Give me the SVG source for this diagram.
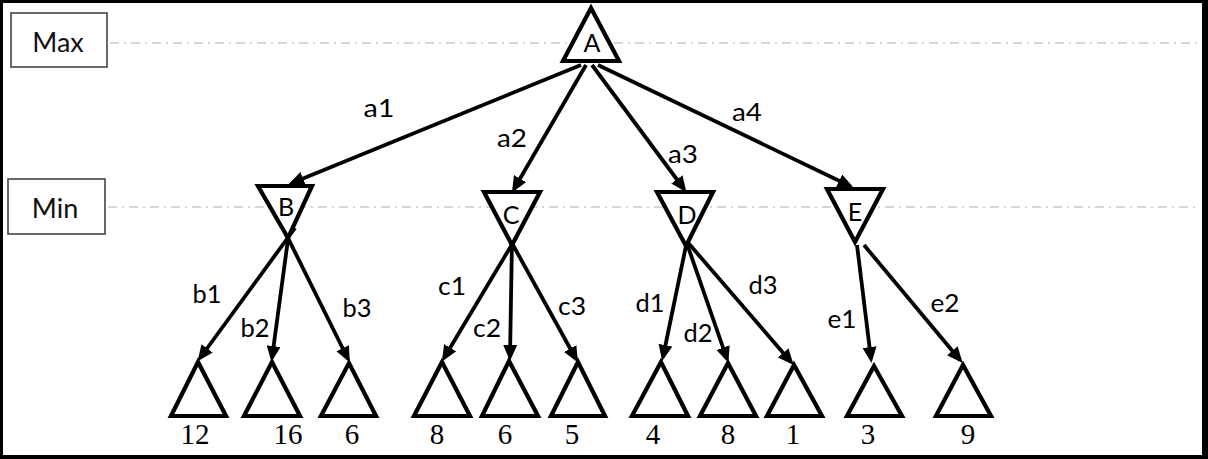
<svg xmlns="http://www.w3.org/2000/svg" width="1208" height="459" viewBox="0 0 1208 459">
<defs>
<marker id="arr" markerUnits="userSpaceOnUse" markerWidth="16" markerHeight="14" refX="12" refY="7" orient="auto">
<path d="M0,0 L16,7 L0,14 z" fill="#000"/>
</marker>
</defs>
<style>
.lvl{fill:#fff;stroke:#444;stroke-width:1.6}
.lvltxt{font-family:Lato,"Open Sans",sans-serif;font-size:27px;fill:#111;text-anchor:middle}
.guide{stroke:#c9c9c9;stroke-width:1.6;stroke-dasharray:9 5 2 5;fill:none}
.node{fill:#fff;stroke:#000;stroke-width:4.2;stroke-linejoin:miter}
.ntxt{font-family:Lato,"Open Sans",sans-serif;font-size:25px;fill:#000;text-anchor:middle}
.edge{stroke:#000;stroke-width:3.8;fill:none;marker-end:url(#arr)}
.elbl{font-family:Lato,"Open Sans",sans-serif;font-size:25px;fill:#000;text-anchor:middle}
.val{font-family:"Liberation Serif","Times New Roman",serif;font-size:29px;fill:#000;text-anchor:middle}
</style>
<rect x="0" y="0" width="1208" height="459" fill="#000"/>
<rect x="3" y="3" width="1199" height="452" fill="#fff"/>

<g id="levels">
<line class="guide" x1="110" y1="43" x2="1198" y2="43"/>
<line class="guide" x1="108" y1="207" x2="1198" y2="207"/>
<g id="level-max"><rect class="lvl" x="11" y="13" width="96" height="54"/><text class="lvltxt" x="58" y="52">Max</text></g>
<g id="level-min"><rect class="lvl" x="8" y="179" width="97" height="55"/><text class="lvltxt" x="55" y="218">Min</text></g>
</g>

<g id="connectors">
<line class="edge" x1="581" y1="65" x2="292" y2="183"/>
<line class="edge" x1="586" y1="65" x2="514" y2="189"/>
<line class="edge" x1="592" y1="65" x2="684" y2="189"/>
<line class="edge" x1="598" y1="65" x2="850" y2="186"/>
<line class="edge" x1="295" y1="228" x2="200" y2="358"/>
<line class="edge" x1="289" y1="232" x2="272" y2="358"/>
<line class="edge" x1="283" y1="228" x2="348" y2="359"/>
<line class="edge" x1="517" y1="236" x2="444" y2="358"/>
<line class="edge" x1="512" y1="240" x2="510" y2="357"/>
<line class="edge" x1="508" y1="236" x2="576" y2="359"/>
<line class="edge" x1="688" y1="236" x2="663" y2="357"/>
<line class="edge" x1="685" y1="238" x2="727" y2="359"/>
<line class="edge" x1="684" y1="238" x2="791" y2="362"/>
<line class="edge" x1="857" y1="245" x2="871" y2="359"/>
<line class="edge" x1="864" y1="245" x2="960" y2="360"/>
</g>

<g id="edge-labels">
<text class="elbl" x="379" y="117" textLength="31" lengthAdjust="spacingAndGlyphs">a1</text>
<text class="elbl" x="512" y="147" textLength="30" lengthAdjust="spacingAndGlyphs">a2</text>
<text class="elbl" x="683" y="163" textLength="30" lengthAdjust="spacingAndGlyphs">a3</text>
<text class="elbl" x="747" y="121" textLength="30" lengthAdjust="spacingAndGlyphs">a4</text>
<text class="elbl" x="207" y="303" textLength="29" lengthAdjust="spacingAndGlyphs">b1</text>
<text class="elbl" x="255" y="337" textLength="29" lengthAdjust="spacingAndGlyphs">b2</text>
<text class="elbl" x="357" y="317" textLength="29" lengthAdjust="spacingAndGlyphs">b3</text>
<text class="elbl" x="452" y="295" textLength="28" lengthAdjust="spacingAndGlyphs">c1</text>
<text class="elbl" x="487" y="337" textLength="28" lengthAdjust="spacingAndGlyphs">c2</text>
<text class="elbl" x="572" y="315" textLength="28" lengthAdjust="spacingAndGlyphs">c3</text>
<text class="elbl" x="650" y="312" textLength="29" lengthAdjust="spacingAndGlyphs">d1</text>
<text class="elbl" x="698" y="342" textLength="29" lengthAdjust="spacingAndGlyphs">d2</text>
<text class="elbl" x="763" y="294" textLength="29" lengthAdjust="spacingAndGlyphs">d3</text>
<text class="elbl" x="842" y="328" textLength="29" lengthAdjust="spacingAndGlyphs">e1</text>
<text class="elbl" x="945" y="312" textLength="29" lengthAdjust="spacingAndGlyphs">e2</text>
</g>

<g id="node-A"><polygon class="node" points="591,8 563,61 619,61"/><text class="ntxt" x="592" y="52">A</text></g>
<g id="node-B"><polygon class="node" points="258,186 312,186 288,238"/><text class="ntxt" x="286" y="216">B</text></g>
<g id="node-C"><polygon class="node" points="484,192 540,192 512,245"/><text class="ntxt" x="511" y="224">C</text></g>
<g id="node-D"><polygon class="node" points="657,192 713,192 686,246"/><text class="ntxt" x="687" y="224">D</text></g>
<g id="node-E"><polygon class="node" points="827,189 883,189 855,242"/><text class="ntxt" x="855" y="221">E</text></g>

<g id="leaf-b1"><polygon class="node" points="198,362 171,416 226,416"/><text class="val" x="195" y="444">12</text></g>
<g id="leaf-b2"><polygon class="node" points="272,362 244,416 300,416"/><text class="val" x="288" y="444">16</text></g>
<g id="leaf-b3"><polygon class="node" points="349,363 321,416 376,416"/><text class="val" x="352" y="444">6</text></g>
<g id="leaf-c1"><polygon class="node" points="442,362 414,416 470,416"/><text class="val" x="437" y="444">8</text></g>
<g id="leaf-c2"><polygon class="node" points="509,361 482,416 538,416"/><text class="val" x="505" y="444">6</text></g>
<g id="leaf-c3"><polygon class="node" points="578,362 551,416 605,416"/><text class="val" x="572" y="444">5</text></g>
<g id="leaf-d1"><polygon class="node" points="661,362 632,416 688,416"/><text class="val" x="653" y="444">4</text></g>
<g id="leaf-d2"><polygon class="node" points="728,363 700,416 756,416"/><text class="val" x="728" y="444">8</text></g>
<g id="leaf-d3"><polygon class="node" points="794,365 767,416 822,416"/><text class="val" x="793" y="444">1</text></g>
<g id="leaf-e1"><polygon class="node" points="874,366 847,416 902,416"/><text class="val" x="868" y="444">3</text></g>
<g id="leaf-e2"><polygon class="node" points="963,365 936,416 991,416"/><text class="val" x="968" y="444">9</text></g>
</svg>
